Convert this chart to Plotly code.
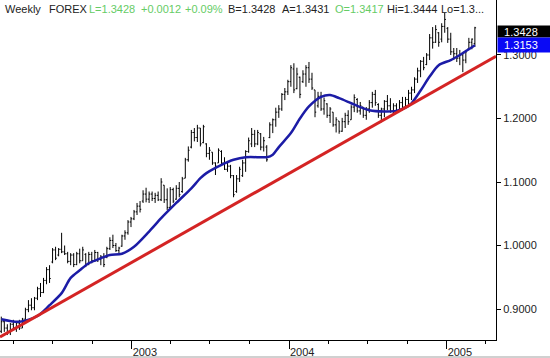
import plotly.graph_objects as go
import pandas as pd

# ---------------- data ----------------
first_week = "2002-03-04"
open_ = [0.8650,0.8800,0.8700,0.8640,0.8760,0.8700,0.8780,0.8700,0.8840,0.8990,
0.9060,0.9020,0.9170,0.9320,0.9260,0.9450,0.9620,0.9740,0.9930,0.9850,
0.9940,0.9900,0.9870,0.9750,0.9850,0.9700,0.9870,0.9760,0.9860,0.9700,
0.9860,0.9760,0.9890,0.9780,0.9820,0.9820,0.9950,1.0080,1.0000,0.9920,
0.9990,1.0150,1.0200,1.0370,1.0420,1.0530,1.0620,1.0700,1.0810,1.0730,
1.0810,1.0740,1.0790,1.0720,1.0950,1.0720,1.0600,1.0880,1.0730,1.0900,
1.0850,1.1060,1.1350,1.1550,1.1780,1.1700,1.1850,1.1620,1.1600,1.1450,
1.1470,1.1300,1.1300,1.1480,1.1300,1.1200,1.1250,1.1100,1.0850,1.1050,
1.1100,1.1300,1.1480,1.1600,1.1750,1.1600,1.1760,1.1550,1.1550,1.1700,
1.1900,1.1980,1.2100,1.2150,1.2380,1.2420,1.2580,1.2780,1.2470,1.2650,
1.2580,1.2700,1.2800,1.2620,1.2450,1.2200,1.2350,1.2150,1.2230,1.2050,
1.2100,1.1900,1.1960,1.1800,1.1950,1.2050,1.1980,1.2180,1.2300,1.2120,
1.2180,1.2050,1.2150,1.2250,1.2380,1.2220,1.2050,1.2150,1.2270,1.2200,
1.2120,1.2200,1.2130,1.2250,1.2180,1.2300,1.2400,1.2450,1.2620,1.2750,
1.2900,1.2850,1.3000,1.3270,1.3200,1.3350,1.3250,1.3450,1.3420,1.3250,
1.3050,1.3020,1.2950,1.3000,1.2920,1.3100,1.3200,1.3180]
high = [0.8880,0.8830,0.8760,0.8780,0.8830,0.8800,0.8830,0.8860,0.9020,0.9140,
0.9170,0.9190,0.9350,0.9410,0.9490,0.9660,0.9690,0.9960,0.9980,0.9960,
1.0200,1.0000,0.9900,0.9880,0.9880,0.9900,0.9950,0.9980,0.9880,0.9900,
0.9900,0.9930,0.9900,0.9850,0.9880,0.9980,1.0130,1.0170,1.0040,0.9980,
1.0170,1.0240,1.0400,1.0450,1.0560,1.0670,1.0700,1.0870,1.0910,1.0850,
1.0850,1.0830,1.0850,1.1060,1.0950,1.0900,1.0920,1.0910,1.0950,1.1000,
1.1080,1.1380,1.1560,1.1820,1.1850,1.1900,1.1850,1.1900,1.1610,1.1550,
1.1470,1.1310,1.1530,1.1500,1.1390,1.1310,1.1270,1.1110,1.1110,1.1240,
1.1350,1.1500,1.1700,1.1850,1.1820,1.1820,1.1770,1.1710,1.1580,1.1940,
1.2000,1.2170,1.2210,1.2400,1.2480,1.2610,1.2840,1.2870,1.2800,1.2660,
1.2760,1.2840,1.2890,1.2720,1.2450,1.2420,1.2420,1.2330,1.2240,1.2180,
1.2100,1.2020,1.1960,1.2010,1.2090,1.2130,1.2210,1.2380,1.2320,1.2260,
1.2180,1.2180,1.2290,1.2420,1.2450,1.2240,1.2170,1.2290,1.2370,1.2320,
1.2240,1.2240,1.2290,1.2340,1.2340,1.2450,1.2500,1.2650,1.2800,1.2920,
1.2970,1.3030,1.3330,1.3440,1.3470,1.3360,1.3500,1.3667,1.3440,1.3350,
1.3110,1.3110,1.3080,1.3030,1.3080,1.3270,1.3260,1.3444]
low = [0.8620,0.8640,0.8590,0.8590,0.8670,0.8640,0.8670,0.8700,0.8830,0.8950,
0.8980,0.8980,0.9140,0.9190,0.9250,0.9390,0.9410,0.9720,0.9770,0.9830,
0.9880,0.9850,0.9720,0.9690,0.9660,0.9690,0.9720,0.9760,0.9660,0.9690,
0.9720,0.9740,0.9740,0.9690,0.9660,0.9800,0.9930,0.9960,0.9900,0.9880,
0.9980,1.0090,1.0170,1.0290,1.0400,1.0480,1.0520,1.0670,1.0680,1.0670,
1.0700,1.0670,1.0700,1.0700,1.0670,1.0560,1.0590,1.0670,1.0720,1.0760,
1.0830,1.1060,1.1320,1.1530,1.1640,1.1630,1.1560,1.1610,1.1390,1.1350,
1.1270,1.1110,1.1300,1.1270,1.1190,1.1160,1.1060,1.0760,1.0830,1.1000,
1.1080,1.1160,1.1460,1.1550,1.1550,1.1580,1.1500,1.1480,1.1320,1.1690,
1.1770,1.1870,1.2010,1.2120,1.2290,1.2370,1.2500,1.2400,1.2460,1.2320,
1.2560,1.2500,1.2560,1.2450,1.2020,1.2170,1.2120,1.2060,1.2010,1.1930,
1.1870,1.1780,1.1760,1.1790,1.1850,1.1900,1.1980,1.2100,1.2090,1.2060,
1.2010,1.1980,1.2090,1.2170,1.2200,1.2010,1.1940,1.2020,1.2130,1.2090,
1.2060,1.2090,1.2130,1.2130,1.2170,1.2210,1.2290,1.2400,1.2560,1.2650,
1.2760,1.2840,1.2920,1.3100,1.3190,1.3130,1.3200,1.3350,1.3190,1.3000,
1.2920,1.2890,1.2840,1.2730,1.2870,1.3080,1.3090,1.3130]
close = [0.8800,0.8700,0.8640,0.8760,0.8700,0.8780,0.8700,0.8840,0.8990,0.9060,
0.9020,0.9170,0.9320,0.9260,0.9450,0.9620,0.9480,0.9930,0.9800,0.9940,
0.9900,0.9870,0.9750,0.9850,0.9700,0.9870,0.9760,0.9930,0.9700,0.9860,
0.9760,0.9890,0.9780,0.9820,0.9700,0.9950,1.0080,1.0000,0.9920,0.9960,
1.0150,1.0200,1.0370,1.0420,1.0530,1.0620,1.0570,1.0810,1.0730,1.0810,
1.0740,1.0790,1.0720,1.1000,1.0720,1.0600,1.0880,1.0700,1.0900,1.0800,
1.1050,1.1350,1.1500,1.1780,1.1700,1.1850,1.1600,1.1870,1.1450,1.1500,
1.1300,1.1250,1.1500,1.1300,1.1200,1.1250,1.1100,1.0800,1.1050,1.1200,
1.1300,1.1480,1.1650,1.1750,1.1600,1.1780,1.1550,1.1650,1.1350,1.1900,
1.1980,1.2100,1.2150,1.2380,1.2420,1.2580,1.2800,1.2450,1.2700,1.2380,
1.2700,1.2800,1.2620,1.2480,1.2100,1.2350,1.2150,1.2280,1.2050,1.2150,
1.1900,1.1980,1.1800,1.1950,1.2050,1.1950,1.2180,1.2330,1.2120,1.2200,
1.2050,1.2150,1.2250,1.2380,1.2250,1.2050,1.2150,1.2270,1.2200,1.2120,
1.2200,1.2130,1.2250,1.2180,1.2300,1.2400,1.2450,1.2620,1.2750,1.2900,
1.2800,1.3000,1.3270,1.3200,1.3400,1.3200,1.3450,1.3560,1.3250,1.3050,
1.3020,1.2950,1.3000,1.2920,1.3050,1.3200,1.3250,1.3428]

# moving average (bar index, value)
ma_index = [0,6,12,16,20,23,26,29,33,36,40,44,49,53,58,63,66,68,73,77,81,86,88,90,
            92,96,99,102,106,109,112,116,119,122,127,131,134,136,139,142,145,149,152,155,157]
ma_value = [0.884,0.880,0.889,0.906,0.925,0.949,0.961,0.972,0.980,0.985,0.987,0.998,
            1.022,1.043,1.067,1.090,1.106,1.114,1.127,1.135,1.139,1.139,1.139,1.143,
            1.155,1.177,1.200,1.219,1.234,1.237,1.232,1.224,1.218,1.213,1.211,1.212,
            1.217,1.224,1.244,1.266,1.284,1.292,1.300,1.309,1.3153]

trend_dates = ["2002-03-01", "2005-04-25"]
trend_vals = [0.856, 1.298]

y_ticks = [0.9, 1.0, 1.1, 1.2, 1.3]
x_range = ["2002-03-01", "2005-04-25"]
y_range = [0.8512, 1.3866]

header = [("Weekly", "#222222", 3), ("FOREX", "#222222", 47),
          ("L=1.3428", "#66cc66", 87), ("+0.0012", "#66cc66", 139),
          ("+0.09%", "#66cc66", 183), ("B=1.3428", "#222222", 226),
          ("A=1.3431", "#222222", 280), ("O=1.3417", "#66cc66", 333),
          ("Hi=1.3444", "#222222", 385), ("Lo=1.3...", "#222222", 439)]

# ---------------- figure ----------------
weeks = pd.date_range(first_week, periods=len(close), freq="7D")
ma_dates = [weeks[i] for i in ma_index]

FONT = "Liberation Sans, Arial, sans-serif"
PLOT_W = 496

fig = go.Figure()
fig.add_trace(go.Ohlc(
    x=weeks, open=open_, high=high, low=low, close=close,
    increasing=dict(line=dict(color="black", width=1)),
    decreasing=dict(line=dict(color="black", width=1)),
    tickwidth=0.4, showlegend=False, hoverinfo="skip"))
fig.add_trace(go.Scatter(
    x=ma_dates, y=ma_value, mode="lines",
    line=dict(color="#1c1ca6", width=2.5, shape="spline", smoothing=0.8),
    showlegend=False, hoverinfo="skip"))
fig.add_trace(go.Scatter(
    x=trend_dates, y=trend_vals, mode="lines",
    line=dict(color="#d42424", width=3),
    showlegend=False, hoverinfo="skip", cliponaxis=True))

annotations = []
for txt, col, px in header:
    annotations.append(dict(
        text=txt, x=px / PLOT_W, xref="paper", xanchor="left",
        y=1 - 9 / 340, yref="paper", yanchor="middle", showarrow=False,
        font=dict(family=FONT, size=11, color=col)))

annotations.append(dict(
    text="&nbsp;&nbsp;" + f"{close[-1]:.4f}", x=1, xref="paper", xanchor="left", xshift=1,
    y=close[-1], yref="y", yanchor="middle", yshift=-4, showarrow=False,
    width=53, height=11, align="left", bgcolor="black", borderpad=0,
    font=dict(family=FONT, size=11, color="white")))
annotations.append(dict(
    text="&nbsp;&nbsp;" + f"{ma_value[-1]:.4f}", x=1, xref="paper", xanchor="left", xshift=1,
    y=ma_value[-1], yref="y", yanchor="middle", yshift=0, showarrow=False,
    width=53, height=14, align="left", bgcolor="#0a0af5", borderpad=0,
    font=dict(family=FONT, size=11, color="white")))

fig.update_layout(
    width=550, height=358,
    margin=dict(l=0, r=54, t=0, b=18),
    paper_bgcolor="white", plot_bgcolor="white",
    font=dict(family=FONT, size=11, color="#222222"),
    annotations=annotations,
    shapes=[dict(type="line", xref="paper", yref="paper", x0=0, x1=550 / PLOT_W,
                 y0=-17 / 340, y1=-17 / 340, line=dict(color="#d0d0d0", width=2))],
    xaxis=dict(
        type="date", range=x_range, rangeslider=dict(visible=False),
        showgrid=False, zeroline=False,
        showline=True, linecolor="black", linewidth=1, mirror=False,
        ticks="outside", ticklen=8, tickcolor="black", tickwidth=1,
        tick0="2002-01-01", dtick="M12", tickformat="%Y",
        ticklabelshift=13, ticklabelstandoff=-6,
        tickfont=dict(family=FONT, size=11, color="#222222"),
        minor=dict(ticks="outside", ticklen=3, tickcolor="black",
                   tick0="2002-01-01", dtick="M3", showgrid=False),
    ),
    yaxis=dict(
        side="right", range=y_range, showgrid=False, zeroline=False,
        showline=True, linecolor="black", linewidth=1,
        ticks="outside", ticklen=4, tickcolor="black",
        tickvals=y_ticks, ticktext=[f"{v:.4f}" for v in y_ticks],
        tickfont=dict(family=FONT, size=11, color="#222222"),
    ),
)

fig.write_html(
    "out.html",
    config={"displayModeBar": False},
    post_script="document.body.style.margin='0';document.body.style.padding='0';"
                "document.body.style.overflow='hidden';")
